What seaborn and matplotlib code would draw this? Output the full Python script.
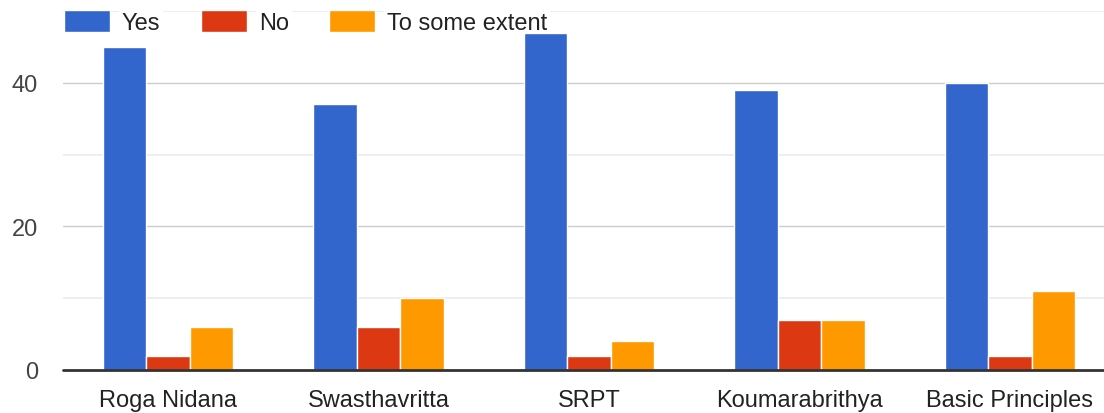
import matplotlib
matplotlib.use("Agg")
import matplotlib.pyplot as plt
import seaborn as sns
import pandas as pd

categories = ["Roga Nidana", "Swasthavritta", "SRPT", "Koumarabrithya", "Basic Principles"]
yes = [45, 37, 47, 39, 40]
no = [2, 6, 2, 7, 2]
some = [6, 10, 4, 7, 11]
series = ["Yes", "No", "To some extent"]
colors = ["#3366CC", "#DC3912", "#FF9900"]

rows = []
for name, vals in zip(series, [yes, no, some]):
    for c, v in zip(categories, vals):
        rows.append({"cat": c, "series": name, "value": v})
df = pd.DataFrame(rows)

sns.set_theme(style="white")
plt.rcParams["font.family"] = ["Liberation Sans", "DejaVu Sans"]

fig = plt.figure(figsize=(11.04, 4.14), dpi=100)
ax = fig.add_axes([63 / 1104, 43 / 414, (1115 - 63) / 1104, (371 - 12) / 414])

sns.barplot(data=df, x="cat", y="value", hue="series", hue_order=series,
            palette=colors, width=0.62, ax=ax, edgecolor="white", linewidth=1,
            saturation=1)
for p in ax.patches:
    p.set_zorder(2)

ax.set_xlim(-0.5, 4.5)
ax.set_ylim(0, 50)
ax.set_yticks([0, 20, 40])
for y in [10, 30, 50]:
    ax.axhline(y, color="#ebebeb", linewidth=1.2, zorder=0)
for y in [20, 40]:
    ax.axhline(y, color="#cccccc", linewidth=1.0, zorder=0)
ax.set_axisbelow(True)
ax.axhline(0, color="#333333", linewidth=2, zorder=5, clip_on=False)
for s in ax.spines.values():
    s.set_visible(False)
ax.set_xlabel("")
ax.set_ylabel("")
ax.tick_params(axis="both", which="both", length=0, labelsize=17, colors="#444444")
ax.tick_params(axis="x", pad=13.5, labelcolor="#222222")
ax.tick_params(axis="y", pad=18)

handles, labels = ax.get_legend_handles_labels()
ax.legend_.remove()
for h in handles[:3]:
    h.set_edgecolor("white")
    h.set_linewidth(1)
leg = ax.legend(handles[:3], labels[:3], loc="upper left", bbox_to_anchor=(64 / 1104, 1 - 11 / 414),
                bbox_transform=fig.transFigure,
                ncol=3, frameon=False, fontsize=17, handlelength=1.95, handleheight=1.06,
                handletextpad=0.5, columnspacing=1.72, borderpad=0, borderaxespad=0,
                labelcolor="#222222")
leg.set_zorder(1)
for t in leg.get_texts():
    t.set_bbox(dict(facecolor="white", edgecolor="none", pad=2))

fig.savefig("out.png", dpi=100)
